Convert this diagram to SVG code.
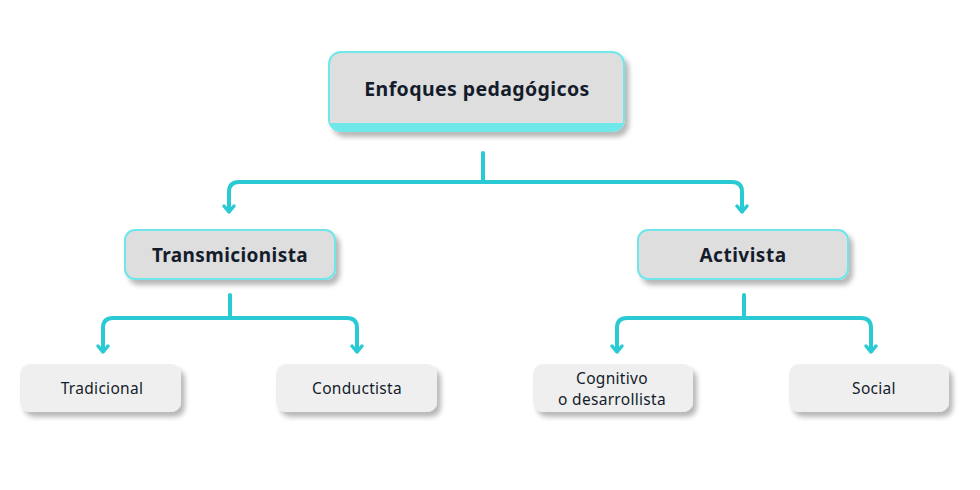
<svg xmlns="http://www.w3.org/2000/svg" width="980" height="490" viewBox="0 0 980 490">
<defs>
<filter id="sh" x="-20%" y="-30%" width="140%" height="170%">
<feDropShadow dx="4" dy="5" stdDeviation="2.5" flood-color="#000" flood-opacity="0.28"/>
</filter>
<style>
.mid{fill:#dedede;stroke:#6fe6ea;stroke-width:2}
.leaf{fill:#efefef}
.tb{font-family:"Noto Sans","Open Sans",sans-serif;font-weight:700;fill:#141c2b;text-anchor:middle}
.tl{font-family:"Noto Sans","Open Sans",sans-serif;font-weight:400;font-size:15.5px;fill:#141c2b;text-anchor:middle;letter-spacing:0.3px}
.ln{fill:none;stroke:#29cad4;stroke-width:4;stroke-linecap:round;stroke-linejoin:round}
.hd{fill:none;stroke:#29cad4;stroke-width:3.5;stroke-linecap:round;stroke-linejoin:round}
</style>
</defs>
<g id="connectors">
<path class="ln" d="M483 153 V182"/>
<path class="ln" d="M229 211 V192 Q229 182 239 182 H732 Q742 182 742 192 V211"/>
<path class="hd" d="M224 206 L229 212 L234 206"/>
<path class="hd" d="M737 206 L742 212 L747 206"/>
<path class="ln" d="M230 295 V318"/>
<path class="ln" d="M103 351 V328 Q103 318 113 318 H347 Q357 318 357 328 V351"/>
<path class="hd" d="M98 346 L103 352 L108 346"/>
<path class="hd" d="M352 346 L357 352 L362 346"/>
<path class="ln" d="M744 295 V318"/>
<path class="ln" d="M617 351 V328 Q617 318 627 318 H861 Q871 318 871 328 V351"/>
<path class="hd" d="M612 346 L617 352 L622 346"/>
<path class="hd" d="M866 346 L871 352 L876 346"/>
</g>
<g id="root">
<rect x="328" y="51" width="297" height="81" rx="13" fill="#6ee8e9" filter="url(#sh)"/>
<path d="M343 53 H610 Q623 53 623 66 V123 H330 V66 Q330 53 343 53 Z" fill="#dedede"/>
<text class="tb" x="477" y="96" font-size="19.5" letter-spacing="0.4">Enfoques pedagógicos</text>
</g>
<g id="transmicionista">
<rect class="mid" x="125" y="230" width="210" height="49" rx="10" filter="url(#sh)"/>
<text class="tb" x="230" y="262" font-size="19" letter-spacing="0.4">Transmicionista</text>
</g>
<g id="activista">
<rect class="mid" x="638" y="230" width="210" height="49" rx="10" filter="url(#sh)"/>
<text class="tb" x="743" y="262" font-size="19" letter-spacing="0.5">Activista</text>
</g>
<g id="tradicional">
<rect class="leaf" x="20" y="364" width="161" height="48" rx="10" filter="url(#sh)"/>
<text class="tl" x="102" y="394">Tradicional</text>
</g>
<g id="conductista">
<rect class="leaf" x="276" y="364" width="161" height="48" rx="10" filter="url(#sh)"/>
<text class="tl" x="357" y="394">Conductista</text>
</g>
<g id="cognitivo">
<rect class="leaf" x="533" y="364" width="160" height="48" rx="10" filter="url(#sh)"/>
<text class="tl" x="612" y="384" font-size="15">Cognitivo</text>
<text class="tl" x="612" y="405" font-size="15">o desarrollista</text>
</g>
<g id="social">
<rect class="leaf" x="789" y="364" width="160" height="48" rx="10" filter="url(#sh)"/>
<text class="tl" x="874" y="394">Social</text>
</g>
</svg>
